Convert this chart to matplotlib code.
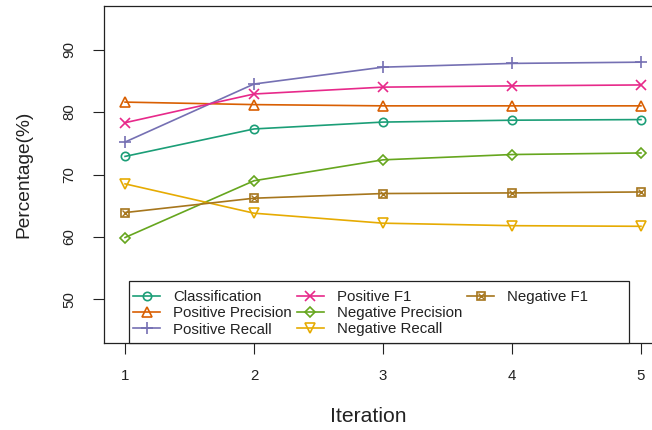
import matplotlib
matplotlib.use("Agg")
import matplotlib.pyplot as plt
from matplotlib.patches import Rectangle
from matplotlib.lines import Line2D
from matplotlib.legend_handler import HandlerTuple

plt.rcParams['font.family'] = ['Liberation Sans', 'DejaVu Sans']

iterations = [1, 2, 3, 4, 5]
classification = [72.9, 77.3, 78.4, 78.7, 78.8]
positive_precision = [81.6, 81.2, 81.0, 81.0, 81.0]
positive_recall = [75.2, 84.5, 87.2, 87.8, 88.0]
positive_f1 = [78.3, 82.9, 84.0, 84.2, 84.35]
negative_precision = [59.9, 69.0, 72.35, 73.2, 73.45]
negative_recall = [68.5, 63.8, 62.2, 61.8, 61.7]
negative_f1 = [63.9, 66.2, 66.95, 67.05, 67.2]

series = [
    ("Classification", classification, "#1B9E77", "o", 6.0),
    ("Positive Precision", positive_precision, "#D95F02", "^", 7.5),
    ("Positive Recall", positive_recall, "#7570B3", "+", 9.0),
    ("Positive F1", positive_f1, "#E7298A", "x", 6.5),
    ("Negative Precision", negative_precision, "#66A61E", "D", 5.5),
    ("Negative Recall", negative_recall, "#E6AB02", "v", 7.5),
    ("Negative F1", negative_f1, "#A6761D", "s", 6.0),
]

W, H = 652, 430
fig = plt.figure(figsize=(W / 100, H / 100), dpi=100)
# plot region (pixels): x 104.4 .. 661.6 (runs past the right edge), y 6 .. 343
ax = fig.add_axes([104.4 / W, (H - 343) / H, 557.2 / W, 337 / H])
ax.set_xlim(0.84, 5.16)
ax.set_ylim(43, 97)

handles = []
for name, vals, color, mk, ms in series:
    ln, = ax.plot(iterations, vals, color=color, lw=1.2, marker=mk, ms=ms,
                  mfc="none", mec=color, mew=1.2, label=name)
    if name == "Negative F1":
        xx, = ax.plot(iterations, vals, color=color, lw=0, marker="x", ms=4.5,
                      mec=color, mew=1.0)
        handles.append((ln, xx))
    else:
        handles.append(ln)

ax.set_xticks(iterations)
ax.set_yticks([50, 60, 70, 80, 90])
ax.tick_params(axis="x", length=8, width=0.8, pad=11, labelsize=10.8, colors="#222222")
ax.tick_params(axis="y", length=8, width=0.8, pad=12, labelsize=10.8, colors="#222222",
               labelrotation=90)
for lab in ax.get_yticklabels():
    lab.set_verticalalignment("center")
for sp in ax.spines.values():
    sp.set_linewidth(0.9)
    sp.set_color("#222222")

ax.set_xlabel("Iteration", fontsize=15.2, color="#222222")
ax.set_ylabel("Percentage(%)", fontsize=13.8, color="#222222")
ax.xaxis.label.set_verticalalignment("center")
ax.yaxis.label.set_verticalalignment("center")
ax.xaxis.set_label_coords((368 - 104.4) / 557.2, -(417 - 343) / 337)
ax.yaxis.set_label_coords(-(104.4 - 24) / 557.2, 0.5)

# legend frame
fig.patches.append(Rectangle((129 / W, (H - 343) / H), 500 / W, 62 / H,
                             transform=fig.transFigure, fill=True, fc="white",
                             ec="#222222", lw=0.9, zorder=5))
labels = [s[0] for s in series]
# two empty slots so the columns fill 3 / 3 / 1
blank = Line2D([], [], lw=0, marker=None)
leg_handles = handles + [blank, blank]
leg_labels = labels + ["", ""]
leg = fig.legend(leg_handles, leg_labels, ncol=3, loc="upper left",
                 bbox_to_anchor=(133 / W, (H - 290) / H), frameon=False,
                 fontsize=10.8, handlelength=1.8, handletextpad=0.87,
                 columnspacing=0.33, labelspacing=0.15, borderpad=0.0,
                 borderaxespad=0.0,
                 handler_map={tuple: HandlerTuple(ndivide=1, pad=0)})
leg.set_zorder(6)
for t in leg.get_texts():
    t.set_color("#222222")

fig.savefig("out.png", dpi=100)
